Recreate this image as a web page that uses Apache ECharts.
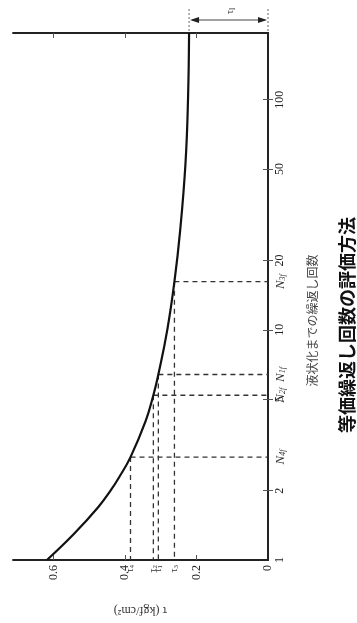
<!DOCTYPE html>
<html><head><meta charset="utf-8">
<script src="https://cdn.jsdelivr.net/npm/echarts@6/dist/echarts.min.js"></script>
<style>html,body{margin:0;padding:0;background:#fff}#c{width:357px;height:623px}</style>
</head><body><div id="c"></div>
<script>
// Curve: number of cycles to liquefaction (N) vs stress (tau, kgf/cm2)
const cycles = [1, 1.3, 1.7, 2, 2.3, 2.8, 4, 5.2, 6.4, 10, 16.2, 27, 53, 100, 195];
const tau    = [0.619, 0.543, 0.475, 0.441, 0.416, 0.385, 0.343, 0.321, 0.307, 0.282, 0.262, 0.246, 0.231, 0.224, 0.221];
// Marked points (dashed lines): tau_i and N_if
const markNames  = ['4', '2', '1', '3'];
const markTau    = [0.385, 0.321, 0.307, 0.262];
const markCycles = [2.8, 5.2, 6.4, 16.2];
const tauLimit = 0.221;
const tauTicks = [0, 0.2, 0.4, 0.6];
const cycleTicks = [1, 2, 5, 10, 20, 50, 100];
const tauMax = 0.714, cycleMax = 195;

const serif = '"Liberation Serif","DejaVu Serif",serif';
const jp = '"Noto Sans CJK JP","Noto Sans CJK SC",sans-serif';
const lineCol = '#222';

function near(a, b) { return Math.abs(a - b) < 1e-3 * Math.max(1, Math.abs(b)); }

const tauLabelFmt = v => {
  const i = markTau.findIndex(m => near(v, m));
  if (i >= 0) return '{t|τ}{s|' + markNames[i] + '}';
  return String(+v.toFixed(2));
};
const cycLabelFmt = v => {
  const i = markCycles.findIndex(m => near(v, m));
  if (i >= 0) return '{n|N}{s|' + markNames[i] + 'f}';
  return String(Math.round(v));
};

const series = [{
  type: 'line', data: cycles.map((n, i) => [tau[i], n]), smooth: 0.45,
  symbol: 'none', lineStyle: { color: '#111', width: 2.2 }, z: 5
}];
markTau.forEach((t, i) => {
  const dash = { color: '#333', width: 1.3, type: [5, 4] };
  series.push({ type: 'line', data: [[t, markCycles[i]], [0, markCycles[i]]], symbol: 'none', lineStyle: dash, silent: true });
  series.push({ type: 'line', data: [[t, markCycles[i]], [t, 1]], symbol: 'none', lineStyle: dash, silent: true });
});
series.push({
  type: 'custom', coordinateSystem: 'cartesian2d', silent: true, clip: false,
  data: [[tauLimit, cycleMax]],
  renderItem: (params, api) => {
    const p1 = api.coord([api.value(0), api.value(1)]);
    const p0 = api.coord([0, api.value(1)]);
    const y = p1[1] - 13;
    return { type: 'group', children: [
      { type: 'line', shape: { x1: p1[0], y1: p1[1] - 24, x2: p1[0], y2: p1[1] }, style: { stroke: '#666', lineWidth: 1, lineDash: [2, 2] } },
      { type: 'line', shape: { x1: p0[0], y1: p0[1] - 24, x2: p0[0], y2: p0[1] }, style: { stroke: '#666', lineWidth: 1, lineDash: [2, 2] } },
      { type: 'line', shape: { x1: p1[0] + 3, y1: y, x2: p0[0] - 3, y2: y }, style: { stroke: '#444', lineWidth: 1.2 } },
      { type: 'polygon', shape: { points: [[p1[0] + 1, y], [p1[0] + 10, y - 3], [p1[0] + 10, y + 3]] }, style: { fill: '#222' } },
      { type: 'polygon', shape: { points: [[p0[0] - 1, y], [p0[0] - 10, y - 3], [p0[0] - 10, y + 3]] }, style: { fill: '#222' } },
      { type: 'text', x: (p1[0] + p0[0]) / 2 + 2, y: y - 9, rotation: Math.PI / 2,
        style: { text: '{a|τ}{b|l}', align: 'center', verticalAlign: 'middle',
          rich: { a: { fontFamily: serif, fontSize: 10, fill: '#333' }, b: { fontFamily: serif, fontSize: 8, fill: '#333', padding: [4, 0, 0, 0] } } } }
    ]};
  }
});

const chart = echarts.init(document.getElementById('c'), null, { renderer: 'canvas' });
chart.setOption({
  backgroundColor: '#fff',
  animation: false,
  grid: { left: 13, right: 89, top: 33, bottom: 63 },
  xAxis: [{
    type: 'value', inverse: true, min: 0, max: tauMax, position: 'bottom',
    splitLine: { show: false },
    axisLine: { lineStyle: { color: lineCol, width: 1.8 } },
    axisTick: { inside: true, length: 5, customValues: [0.2, 0.4, 0.6], lineStyle: { color: '#555' } },
    axisLabel: {
      rotate: 90, margin: 5, customValues: tauTicks.concat(markTau), formatter: tauLabelFmt,
      fontFamily: serif, fontSize: 12, color: '#222',
      rich: { t: { fontFamily: serif, fontSize: 10, color: '#333' }, s: { fontFamily: serif, fontSize: 7, color: '#333', padding: [4, 0, 0, 0] } }
    },
    name: 'τ (kgf/cm²)', nameLocation: 'middle', nameGap: 44, nameRotate: 180,
    nameTextStyle: { fontFamily: serif, fontSize: 12, color: '#333' }
  }, {
    type: 'value', inverse: true, min: 0, max: tauMax, position: 'top',
    splitLine: { show: false },
    axisLine: { lineStyle: { color: lineCol, width: 1.8 } },
    axisTick: { inside: true, length: 5, customValues: [0.2, 0.4, 0.6], lineStyle: { color: '#555' } },
    axisLabel: { show: false }
  }],
  yAxis: [{
    type: 'log', logBase: 10, min: 1, max: cycleMax, position: 'right',
    splitLine: { show: false },
    axisLine: { lineStyle: { color: lineCol, width: 1.8 } },
    axisTick: { inside: true, length: 5, customValues: [2, 5, 10, 20, 50, 100], lineStyle: { color: '#555' } },
    axisLabel: {
      rotate: 90, margin: 6, customValues: cycleTicks.concat(markCycles), formatter: cycLabelFmt,
      fontFamily: serif, fontSize: 12, color: '#222',
      rich: { n: { fontFamily: serif, fontStyle: 'italic', fontSize: 13, color: '#333' }, s: { fontFamily: serif, fontStyle: 'italic', fontSize: 8, color: '#333', padding: [5, 0, 0, 0] } }
    },
    name: '液状化までの繰返し回数', nameLocation: 'middle', nameGap: 38, nameRotate: 90,
    nameTextStyle: { fontFamily: jp, fontSize: 12, color: '#444', padding: [0, 48, 0, 0] }
  }, {
    type: 'log', logBase: 10, min: 1, max: cycleMax, position: 'left',
    splitLine: { show: false },
    axisLine: { lineStyle: { color: lineCol, width: 1.8 } },
    axisTick: { inside: true, length: 5, customValues: [2, 5, 10, 20, 50, 100], lineStyle: { color: '#555' } },
    axisLabel: { show: false }
  }],
  graphic: [{
    type: 'text', x: 347, y: 325, rotation: Math.PI / 2,
    style: { text: '等価繰返し回数の評価方法', fontFamily: jp, fontWeight: 'bold', fontSize: 18, fill: '#111', align: 'center', verticalAlign: 'middle' }
  }],
  series: series
});
</script>
</body></html>
